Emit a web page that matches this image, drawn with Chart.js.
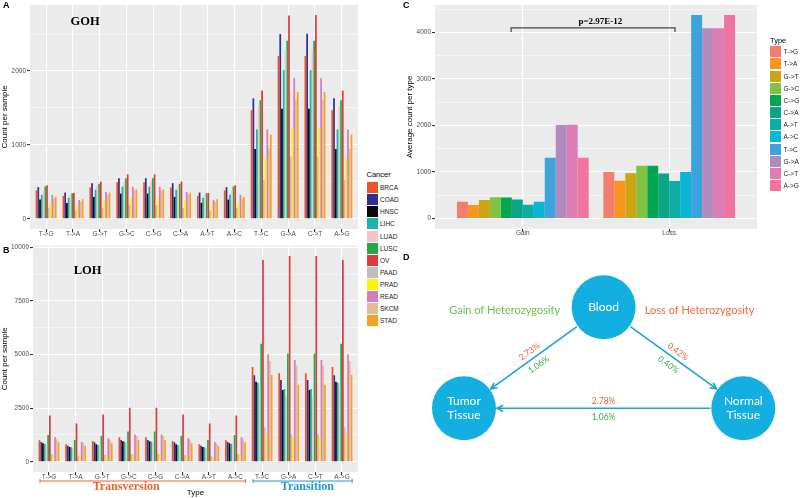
<!DOCTYPE html>
<html>
<head>
<meta charset="utf-8">
<title>GOH / LOH mutation types</title>
<script src="https://cdn.jsdelivr.net/npm/chart.js@4.4.1/dist/chart.umd.min.js"></script>
<style>
    html, body { margin: 0; padding: 0; background: #fff; }
    #page { position: relative; width: 800px; height: 498px; overflow: hidden; font-family: "Liberation Sans", Arial, sans-serif; }
    canvas { position: absolute; }
    .tag { position: absolute; font-weight: bold; font-size: 9px; line-height: 10px; color: #000; }
    .ltitle { position: absolute; font-size: 7.5px; line-height: 10px; color: #000; white-space: nowrap; }
    .lkey { position: absolute; width: 11px; height: 11px; }
    .llab { position: absolute; font-size: 6.5px; line-height: 9px; color: #1a1a1a; white-space: nowrap; }
</style>
</head>
<body>
<div id="page">
    <canvas id="gohChart" width="362" height="242" style="left:0;top:0"></canvas>
    <canvas id="lohChart" width="362" height="258" style="left:0;top:240px"></canvas>
    <canvas id="avgChart" width="400" height="242" style="left:400px;top:0"></canvas>
    <canvas id="flowChart" width="400" height="238" style="left:400px;top:260px"></canvas>
    <div id="cancerLegend"></div>
    <div id="typeLegend"></div>
    <div class="tag" style="left:3px;top:0">A</div>
    <div class="tag" style="left:3px;top:245px">B</div>
    <div class="tag" style="left:403px;top:0">C</div>
    <div class="tag" style="left:403px;top:252px">D</div>
</div>
<script>
// ---- data ----
const mutationTypes = ['T->G', 'T->A', 'G->T', 'G->C', 'C->G', 'C->A', 'A->T', 'A->C', 'T->C', 'G->A', 'C->T', 'A->G'];
const cancers = ['BRCA', 'COAD', 'HNSC', 'LIHC', 'LUAD', 'LUSC', 'OV', 'PAAD', 'PRAD', 'READ', 'SKCM', 'STAD'];

// panel A: gain of heterozygosity, count per sample
const gohBRCA = [385, 310, 425, 496, 496, 425, 310, 385, 1470, 2204, 2204, 1470];
const gohCOAD = [428, 355, 482, 549, 549, 482, 355, 428, 1630, 2500, 2505, 1630];
const gohHNSC = [260, 215, 296, 341, 341, 296, 215, 260, 945, 1491, 1491, 945];
const gohLIHC = [325, 285, 394, 434, 434, 394, 285, 325, 1210, 2013, 2013, 1210];
const gohLUAD = [380, 320, 455, 509, 509, 455, 320, 380, 1525, 2288, 2288, 1525];
const gohLUSC = [437, 345, 473, 549, 549, 473, 345, 437, 1605, 2411, 2411, 1605];
const gohOV   = [455, 350, 504, 602, 602, 504, 350, 455, 1735, 2752, 2757, 1735];
const gohPAAD = [150, 110, 146, 186, 186, 146, 110, 150, 525, 841, 841, 525];
const gohPRAD = [220, 180, 243, 283, 283, 243, 180, 220, 825, 1235, 1235, 825];
const gohREAD = [325, 255, 363, 434, 434, 363, 255, 325, 1210, 1903, 1903, 1210];
const gohSKCM = [270, 230, 323, 385, 385, 323, 230, 270, 950, 1615, 1615, 950];
const gohSTAD = [300, 265, 354, 398, 398, 354, 265, 300, 1140, 1717, 1717, 1140];

// panel B: loss of heterozygosity, count per sample
const lohBRCA = [998, 811, 967, 1139, 1139, 967, 811, 998, 4416, 4121, 4121, 4416];
const lohCOAD = [920, 749, 905, 1014, 1014, 905, 749, 920, 4027, 3810, 3810, 4027];
const lohHNSC = [858, 686, 811, 952, 952, 811, 686, 858, 3732, 3343, 3343, 3732];
const lohLIHC = [827, 671, 780, 936, 936, 780, 671, 827, 3685, 3390, 3390, 3685];
const lohLUAD = [820, 624, 733, 890, 890, 733, 624, 820, 3550, 3032, 3032, 3550];
const lohLUSC = [1248, 1014, 1201, 1404, 1404, 1201, 1014, 1248, 5505, 5038, 5038, 5505];
const lohOV   = [2153, 1778, 2200, 2512, 2512, 2200, 1778, 2153, 9408, 9594, 9594, 9408];
const lohPAAD = [359, 250, 312, 359, 359, 312, 250, 359, 1602, 1275, 1275, 1602];
const lohPRAD = [296, 203, 281, 343, 343, 281, 203, 296, 1306, 1135, 1135, 1306];
const lohREAD = [1139, 920, 1092, 1264, 1264, 1092, 920, 1139, 5007, 4743, 4743, 5007];
const lohSKCM = [1045, 858, 1030, 1201, 1201, 1030, 858, 1045, 4696, 4478, 4478, 4696];
const lohSTAD = [905, 733, 858, 1014, 1014, 858, 733, 905, 4043, 3592, 3592, 4043];

// panel C: average count per type
const changeGroups = ['Gain', 'Loss'];
const gainAverage = [358, 288, 400, 457, 450, 408, 295, 358, 1308, 2010, 2018, 1308];
const lossAverage = [998, 812, 973, 1132, 1132, 970, 808, 998, 4373, 4091, 4091, 4373];
const pValueText = 'p=2.97E-12';

// axis breaks
const gohTicks = [0, 1000, 2000];
const lohTicks = [0, 2500, 5000, 7500, 10000];
const avgTicks = [0, 1000, 2000, 3000, 4000];

// mutation classes under panel B
const classNames = ['Transversion', 'Transition'];
const classFirst = [1, 9];
const classLast = [8, 12];

// panel D: tissue diagram
const tissueNodes = ['Blood', 'Tumor\nTissue', 'Normal\nTissue'];
const nodeX = [0, -1, 1];
const nodeY = [1, 0, 0];
const edgeFrom = [0, 0, 2];
const edgeTo = [1, 2, 1];
const lossRates = ['2.73%', '0.42%', '2.78%'];
const gainRates = ['1.06%', '0.40%', '1.06%'];
const gainTitle = 'Gain of Heterozygosity';
const lossTitle = 'Loss of Heterozygosity';

// ---- styles ----
const FONT = '"Liberation Sans", Arial, sans-serif';
const SERIF = '"Liberation Serif", "Times New Roman", serif';
const cancerColors = ['#EF5128', '#2E3192', '#0A0A0A', '#1EB3A8', '#F7C3C9', '#23A94B',
    '#E2383D', '#BEBEBE', '#FFF200', '#D27EBB', '#E8B997', '#F8A11E'];
const typeColors = ['#F47E6E', '#F7961E', '#CBA516', '#80C342', '#00A650', '#0BA583',
    '#0BADA6', '#0CB5D5', '#3EA3DD', '#B38ABE', '#DE7DB4', '#F173A0'];
const ORANGE = '#EF6038';
const GREEN = '#3AAA4A';

const ggBackground = {
    id: 'ggBackground',
    beforeDraw(chart) {
        const { ctx, chartArea: a } = chart;
        ctx.save();
        ctx.fillStyle = '#EBEBEB';
        ctx.fillRect(a.left, a.top, a.right - a.left, a.bottom - a.top);
        ctx.restore();
    }
};

function ggYAxis(majors, min, max, width, title) {
    const step = majors[1] - majors[0];
    const minors = majors.map(v => v + step / 2).filter(v => v < max);
    const all = majors.concat(minors).sort((a, b) => a - b);
    const isMajor = c => c.tick && majors.includes(c.tick.value);
    return {
        type: 'linear', min, max, bounds: 'data',
        afterBuildTicks: axis => { axis.ticks = all.map(v => ({ value: v })); },
        afterFit: axis => { axis.width = width; },
        ticks: {
            autoSkip: false, padding: 1, color: '#4D4D4D', font: { family: FONT, size: 6.5 },
            callback: v => majors.includes(v) ? String(v) : ''
        },
        grid: {
            color: '#FFFFFF',
            lineWidth: c => isMajor(c) ? 1.1 : 0.5,
            tickColor: c => isMajor(c) ? '#333333' : 'rgba(0,0,0,0)',
            tickLength: 3
        },
        border: { display: false },
        title: { display: true, text: title, color: '#000', padding: 0, font: { family: FONT, size: 8 } }
    };
}

function ggXAxis(labels, height, title) {
    return {
        type: 'linear', min: 0.4, max: labels.length + 0.6, bounds: 'data', offset: false,
        afterBuildTicks: axis => { axis.ticks = labels.map((_, i) => ({ value: i + 1 })); },
        afterFit: axis => { axis.height = height; },
        ticks: {
            autoSkip: false, maxRotation: 0, padding: -2, color: '#4D4D4D', font: { family: FONT, size: 6.5 },
            callback: (v, i) => labels[i]
        },
        grid: { color: '#FFFFFF', lineWidth: 1.1, tickColor: '#333333', tickLength: 3, offset: false },
        border: { display: false },
        title: title
            ? { display: true, text: title, color: '#000', padding: 0, font: { family: FONT, size: 8 } }
            : { display: false }
    };
}

function baseOptions(padding, x, y) {
    return {
        responsive: false,
        animation: false,
        events: [],
        layout: { padding },
        plugins: { legend: { display: false }, tooltip: { enabled: false } },
        scales: { x, y }
    };
}

function plotLabel(text, xv, yv) {
    return {
        id: 'plotLabel',
        afterDraw(chart) {
            const { ctx, scales: { x, y } } = chart;
            ctx.save();
            ctx.font = 'bold 12.5px ' + SERIF;
            ctx.fillStyle = '#000';
            ctx.textAlign = 'center';
            ctx.textBaseline = 'middle';
            ctx.fillText(text, x.getPixelForValue(xv), y.getPixelForValue(yv));
            ctx.restore();
        }
    };
}

function cancerDatasets(series) {
    return cancers.map((name, i) => ({
        label: name,
        data: series[i].map((v, j) => ({ x: j + 1, y: v })),
        backgroundColor: cancerColors[i],
        borderWidth: 0,
        categoryPercentage: 0.78,
        barPercentage: 1
    }));
}

// ---- panel A ----
const gohSeries = [gohBRCA, gohCOAD, gohHNSC, gohLIHC, gohLUAD, gohLUSC, gohOV, gohPAAD, gohPRAD, gohREAD, gohSKCM, gohSTAD];
new Chart(document.getElementById('gohChart'), {
    type: 'bar',
    data: { datasets: cancerDatasets(gohSeries) },
    options: baseOptions({ top: 1, right: 4, left: 0, bottom: 0 },
        ggXAxis(mutationTypes, 13),
        ggYAxis(gohTicks, -138, 2895, 30, 'Count per sample')),
    plugins: [ggBackground, plotLabel('GOH', 2.45, 2670)]
});

// ---- panel B ----
const lohSeries = [lohBRCA, lohCOAD, lohHNSC, lohLIHC, lohLUAD, lohLUSC, lohOV, lohPAAD, lohPRAD, lohREAD, lohSKCM, lohSTAD];
const classBrackets = {
    id: 'classBrackets',
    afterDraw(chart) {
        const { ctx, chartArea, scales: { x } } = chart;
        const colors = ['#E9662F', '#1F9AD6'];
        const labelAt = [3.9, 10.7];
        const y = chartArea.bottom + 9;
        ctx.save();
        classNames.forEach((name, i) => {
            const x0 = x.getPixelForValue(classFirst[i] - 0.34);
            const x1 = x.getPixelForValue(classLast[i] + 0.38);
            ctx.strokeStyle = colors[i];
            ctx.lineWidth = 1;
            ctx.beginPath();
            ctx.moveTo(x0, y); ctx.lineTo(x1, y);
            ctx.moveTo(x0, y - 2); ctx.lineTo(x0, y + 2);
            ctx.moveTo(x1, y - 2); ctx.lineTo(x1, y + 2);
            ctx.stroke();
            ctx.font = 'bold 12px ' + SERIF;
            ctx.fillStyle = colors[i];
            ctx.textAlign = 'center';
            ctx.textBaseline = 'middle';
            ctx.fillText(name, x.getPixelForValue(labelAt[i]), y + 6);
        });
        ctx.restore();
    }
};
new Chart(document.getElementById('lohChart'), {
    type: 'bar',
    data: { datasets: cancerDatasets(lohSeries) },
    options: baseOptions({ top: 5.5, right: 4, left: 0, bottom: 0 },
        ggXAxis(mutationTypes, 26, 'Type'),
        ggYAxis(lohTicks, -480, 10080, 33, 'Count per sample')),
    plugins: [ggBackground, plotLabel('LOH', 2.45, 8920), classBrackets]
});

// ---- panel C ----
const pBracket = {
    id: 'pBracket',
    afterDraw(chart) {
        const { ctx, scales: { x, y } } = chart;
        const x0 = x.getPixelForValue(0.92), x1 = x.getPixelForValue(2.04);
        const yTop = y.getPixelForValue(4100), yEnd = y.getPixelForValue(4010);
        ctx.save();
        ctx.strokeStyle = '#444';
        ctx.lineWidth = 1.2;
        ctx.beginPath();
        ctx.moveTo(x0, yEnd); ctx.lineTo(x0, yTop); ctx.lineTo(x1, yTop); ctx.lineTo(x1, yEnd);
        ctx.stroke();
        ctx.font = 'bold 9px ' + SERIF;
        ctx.fillStyle = '#000';
        ctx.textAlign = 'center';
        ctx.textBaseline = 'middle';
        ctx.fillText(pValueText, x.getPixelForValue(1.53), y.getPixelForValue(4230));
        ctx.restore();
    }
};
new Chart(document.getElementById('avgChart'), {
    type: 'bar',
    data: {
        datasets: mutationTypes.map((t, i) => ({
            label: t,
            data: [{ x: 1, y: gainAverage[i] }, { x: 2, y: lossAverage[i] }],
            backgroundColor: typeColors[i],
            borderWidth: 0,
            categoryPercentage: 0.9,
            barPercentage: 1
        }))
    },
    options: baseOptions({ top: 1, right: 43, left: 5, bottom: 0 },
        ggXAxis(changeGroups, 13.3),
        ggYAxis(avgTicks, -219, 4592, 30, 'Average count per type')),
    plugins: [ggBackground, pBracket]
});

// ---- panel D ----
const tissueDiagram = {
    id: 'tissueDiagram',
    afterDatasetsDraw(chart) {
        const { ctx, scales: { x, y } } = chart;
        const px = nodeX.map(v => x.getPixelForValue(v));
        const py = nodeY.map(v => y.getPixelForValue(v));
        const r = 33;
        ctx.save();
        edgeFrom.forEach((f, i) => {
            const t = edgeTo[i];
            const dx = px[t] - px[f], dy = py[t] - py[f];
            const len = Math.hypot(dx, dy), ux = dx / len, uy = dy / len;
            const sx = px[f] + ux * r, sy = py[f] + uy * r;
            const ex = px[t] - ux * r, ey = py[t] - uy * r;
            const a = Math.atan2(uy, ux), h = 7;
            ctx.strokeStyle = '#1AA2DC';
            ctx.lineWidth = 1.6;
            ctx.beginPath();
            ctx.moveTo(sx, sy); ctx.lineTo(ex, ey);
            ctx.moveTo(ex - h * Math.cos(a - 0.45), ey - h * Math.sin(a - 0.45));
            ctx.lineTo(ex, ey);
            ctx.lineTo(ex - h * Math.cos(a + 0.45), ey - h * Math.sin(a + 0.45));
            ctx.stroke();

            let ang = a;
            if (ang > Math.PI / 2) ang -= Math.PI;
            if (ang < -Math.PI / 2) ang += Math.PI;
            ctx.save();
            ctx.translate((sx + ex) / 2, (sy + ey) / 2);
            ctx.rotate(ang);
            ctx.font = '8.5px Lato';
            ctx.textAlign = 'center';
            ctx.textBaseline = 'middle';
            ctx.fillStyle = ORANGE;
            ctx.fillText(lossRates[i], 0, -7.5);
            ctx.fillStyle = GREEN;
            ctx.fillText(gainRates[i], 0, 8.5);
            ctx.restore();
        });

        ctx.fillStyle = '#FFFFFF';
        ctx.font = '12px Lato';
        ctx.textAlign = 'center';
        ctx.textBaseline = 'middle';
        tissueNodes.forEach((name, i) => {
            const lines = name.split('\n');
            lines.forEach((ln, k) => {
                ctx.fillText(ln, px[i], py[i] + (k - (lines.length - 1) / 2) * 14);
            });
        });

        ctx.font = '11px Lato';
        ctx.fillStyle = '#6CBF4E';
        ctx.fillText(gainTitle, px[0] - 99, py[0] + 3);
        ctx.fillStyle = '#F26A3D';
        ctx.fillText(lossTitle, px[0] + 96, py[0] + 3);
        ctx.restore();
    }
};
new Chart(document.getElementById('flowChart'), {
    type: 'scatter',
    data: {
        datasets: [{
            data: nodeX.map((v, i) => ({ x: v, y: nodeY[i] })),
            pointRadius: 32,
            pointHoverRadius: 32,
            backgroundColor: '#12AFE0',
            borderWidth: 0,
            clip: false
        }]
    },
    options: {
        responsive: false,
        animation: false,
        events: [],
        layout: { padding: 0, autoPadding: false },
        plugins: { legend: { display: false }, tooltip: { enabled: false } },
        scales: {
            x: { display: false, min: -1.458, max: 1.406 },
            y: { display: false, min: -0.888, max: 1.468 }
        }
    },
    plugins: [tissueDiagram]
});

// ---- legends ----
function buildLegend(id, title, names, colors, left, titleY, firstY, step) {
    const box = document.getElementById(id);
    const head = document.createElement('div');
    head.className = 'ltitle';
    head.style.left = left + 'px';
    head.style.top = (titleY - 5) + 'px';
    head.textContent = title;
    box.appendChild(head);
    names.forEach((name, i) => {
        const cy = firstY + i * step;
        const key = document.createElement('div');
        key.className = 'lkey';
        key.style.left = left + 'px';
        key.style.top = (cy - 5.5) + 'px';
        key.style.background = colors[i];
        box.appendChild(key);
        const lab = document.createElement('div');
        lab.className = 'llab';
        lab.style.left = (left + 13.5) + 'px';
        lab.style.top = (cy - 4.5) + 'px';
        lab.textContent = name;
        box.appendChild(lab);
    });
}
buildLegend('cancerLegend', 'Cancer', cancers, cancerColors, 366.5, 175, 187.7, 12.09);
buildLegend('typeLegend', 'Type', mutationTypes, typeColors, 770, 40.7, 51.7, 12.18);
</script>
</body>
</html>
